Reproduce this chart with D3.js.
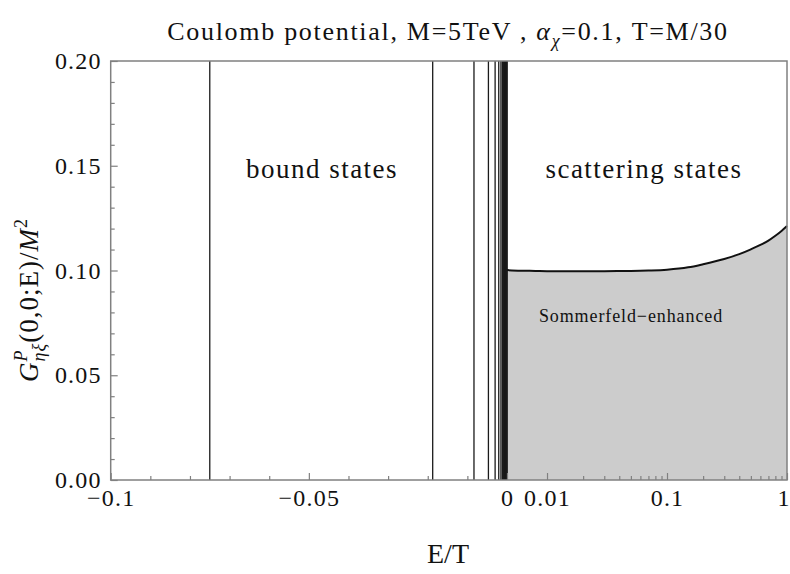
<!DOCTYPE html>
<html>
<head>
<meta charset="utf-8">
<script src="https://cdn.jsdelivr.net/npm/d3@7"></script>
<style>
  body { margin: 0; background: #fff; }
  svg text { font-family: "Liberation Serif", "Times New Roman", "DejaVu Serif", serif; fill: #111; }
</style>
</head>
<body>
<svg id="container"></svg>
<script>
// bound-state energies E_n/T (vertical lines), n = 1,2,3,...
const boundE = [-0.075, -0.01875, -0.008333, -0.004688, -0.003, -0.002083, -0.001531,
                -0.001172, -0.000926, -0.00075, -0.00062, -0.000521, -0.000444, -0.000383,
                -0.000333, -0.000293, -0.00026, -0.000231, -0.000208, -0.000188, -0.000155,
                -0.00012, -0.0000833, -0.0000469, -0.0000208];

// scattering states: E/T and G/M^2
const scatE = [0.00464, 0.006, 0.008, 0.01, 0.015, 0.02, 0.03, 0.05, 0.07, 0.1,
               0.15, 0.2, 0.3, 0.4, 0.5, 0.6, 0.7, 0.8, 0.9, 1.0];
const scatG = [0.1002, 0.0999, 0.0998, 0.0997, 0.0997, 0.0997, 0.0997, 0.0998, 0.1000, 0.1004,
               0.1015, 0.1030, 0.1055, 0.1078, 0.1101, 0.1122, 0.1143, 0.1166, 0.1189, 0.1212];

const negMajor = [-0.1, -0.05, 0];
const negMinor = [-0.09, -0.08, -0.07, -0.06, -0.04, -0.03, -0.02, -0.01];
const posMajor = [0.01, 0.1, 1];
const posMinor = [0.02, 0.03, 0.04, 0.05, 0.06, 0.07, 0.08, 0.09,
                  0.2, 0.3, 0.4, 0.5, 0.6, 0.7, 0.8, 0.9];
const yMajor = [0, 0.05, 0.1, 0.15, 0.2];
const yMinor = [0.01, 0.02, 0.03, 0.04, 0.06, 0.07, 0.08, 0.09,
                0.11, 0.12, 0.13, 0.14, 0.16, 0.17, 0.18, 0.19];

const width = 790;
const height = 574;
const plotL = 110.7, plotR = 787, plotT = 61, plotB = 480, split = 507;
const serif = '"Liberation Serif", "Times New Roman", "DejaVu Serif", serif';

const svg = d3.select('#container')
    .attr('width', width)
    .attr('height', height);

const xNeg = d3.scaleLinear().domain([-0.1, 0]).range([plotL, split]);
const xPos = d3.scaleLog().domain([0.00464, 1]).range([split, plotR]);
const y = d3.scaleLinear().domain([0, 0.2]).range([plotB, plotT]);

const scat = scatE.map((e, i) => ({e: e, g: scatG[i]}));

// shaded area under scattering curve
svg.append('path')
    .datum(scat)
    .attr('fill', '#cccccc')
    .attr('d', d3.area().x(d => xPos(d.e)).y0(y(0)).y1(d => y(d.g)));

// bound states
svg.selectAll('line.bound')
    .data(boundE)
    .enter()
    .append('line')
    .attr('class', 'bound')
    .attr('x1', d => xNeg(d))
    .attr('x2', d => xNeg(d))
    .attr('y1', y(0))
    .attr('y2', y(0.2))
    .attr('stroke', '#1a1a1a')
    .attr('stroke-width', 1.3);

// scattering curve
svg.append('path')
    .datum(scat)
    .attr('fill', 'none')
    .attr('stroke', '#111')
    .attr('stroke-width', 2)
    .attr('d', d3.line().x(d => xPos(d.e)).y(d => y(d.g)).curve(d3.curveMonotoneX));

// frame
svg.append('rect')
    .attr('x', plotL).attr('y', plotT)
    .attr('width', plotR - plotL).attr('height', plotB - plotT)
    .attr('fill', 'none')
    .attr('stroke', '#808080')
    .attr('stroke-width', 1.5);

function styleAxis(g) {
    g.attr('font-family', serif);
    g.select('.domain').remove();
    g.selectAll('.tick line').attr('stroke', '#808080').attr('stroke-width', 1.2);
    g.selectAll('.tick text')
        .attr('font-family', serif)
        .style('font-family', serif)
        .style('font-size', '24px')
        .style('letter-spacing', '1.2px')
        .attr('fill', '#111');
}

const fmtNeg = d => d === 0 ? '0' : d3.format('')(d).replace('-', '\u2212');

svg.append('g')
    .attr('transform', `translate(0,${plotB})`)
    .call(d3.axisBottom(xNeg).tickValues(negMinor).tickSize(-4).tickFormat(''))
    .call(styleAxis);
svg.append('g')
    .attr('transform', `translate(0,${plotB})`)
    .call(d3.axisBottom(xNeg).tickValues(negMajor).tickSize(-7).tickPadding(9).tickFormat(fmtNeg))
    .call(styleAxis);
svg.append('g')
    .attr('transform', `translate(0,${plotB})`)
    .call(d3.axisBottom(xPos).tickValues(posMinor).tickSize(-4).tickFormat(''))
    .call(styleAxis);
svg.append('g')
    .attr('transform', `translate(0,${plotB})`)
    .call(d3.axisBottom(xPos).tickValues(posMajor).tickSize(-7).tickPadding(9).tickFormat(d => String(d)))
    .call(styleAxis)
    .call(g => g.selectAll('.tick text').filter(d => d === 1).attr('dx', -4).style('letter-spacing', '0px'));

svg.append('g')
    .attr('transform', `translate(${plotL},0)`)
    .call(d3.axisLeft(y).tickValues(yMinor).tickSize(-4).tickFormat(''))
    .call(styleAxis);
svg.append('g')
    .attr('transform', `translate(${plotL},0)`)
    .call(d3.axisLeft(y).tickValues(yMajor).tickSize(-7).tickPadding(9).tickFormat(d3.format('.2f')))
    .call(styleAxis);

// title
const title = svg.append('text')
    .attr('x', 448).attr('y', 40)
    .attr('text-anchor', 'middle')
    .attr('font-family', serif)
    .style('font-size', '26px')
    .style('letter-spacing', '1.7px');
title.append('tspan').text('Coulomb potential, M=5TeV , ');
title.append('tspan').style('font-style', 'italic').text('\u03b1');
title.append('tspan').style('font-style', 'italic').style('font-size', '18px').attr('dy', 7).text('\u03c7');
title.append('tspan').attr('dy', -7).text('=0.1, T=M/30');

// region labels
svg.append('text')
    .attr('x', 322).attr('y', 178)
    .attr('text-anchor', 'middle')
    .attr('font-family', serif)
    .style('font-size', '27px')
    .style('letter-spacing', '1.5px')
    .text('bound states');
svg.append('text')
    .attr('x', 644).attr('y', 178)
    .attr('text-anchor', 'middle')
    .attr('font-family', serif)
    .style('font-size', '27px')
    .style('letter-spacing', '1.5px')
    .text('scattering states');
svg.append('text')
    .attr('x', 631).attr('y', 322)
    .attr('text-anchor', 'middle')
    .attr('font-family', serif)
    .style('font-size', '18px')
    .style('letter-spacing', '0.9px')
    .attr('fill', '#333')
    .text('Sommerfeld\u2212enhanced');

// x label
svg.append('text')
    .attr('x', 448).attr('y', 563)
    .attr('text-anchor', 'middle')
    .attr('font-family', serif)
    .style('font-size', '28px')
    .text('E/T');

// y label
const yl = svg.append('text')
    .attr('transform', 'translate(38,300) rotate(-90)')
    .attr('text-anchor', 'middle')
    .attr('font-family', serif)
    .style('font-size', '27px')
    .style('letter-spacing', '1px');
yl.append('tspan').style('font-style', 'italic').text('G');
yl.append('tspan').style('font-style', 'italic').style('font-size', '18px').attr('dy', -11).text('P');
yl.append('tspan').style('font-style', 'italic').style('font-size', '18px').attr('dx', -12).attr('dy', 18).text('\u03b7\u03be');
yl.append('tspan').attr('dy', -7).text('(0,0;E)/');
yl.append('tspan').style('font-style', 'italic').text('M');
yl.append('tspan').style('font-size', '18px').attr('dy', -11).text('2');
</script>
</body>
</html>
